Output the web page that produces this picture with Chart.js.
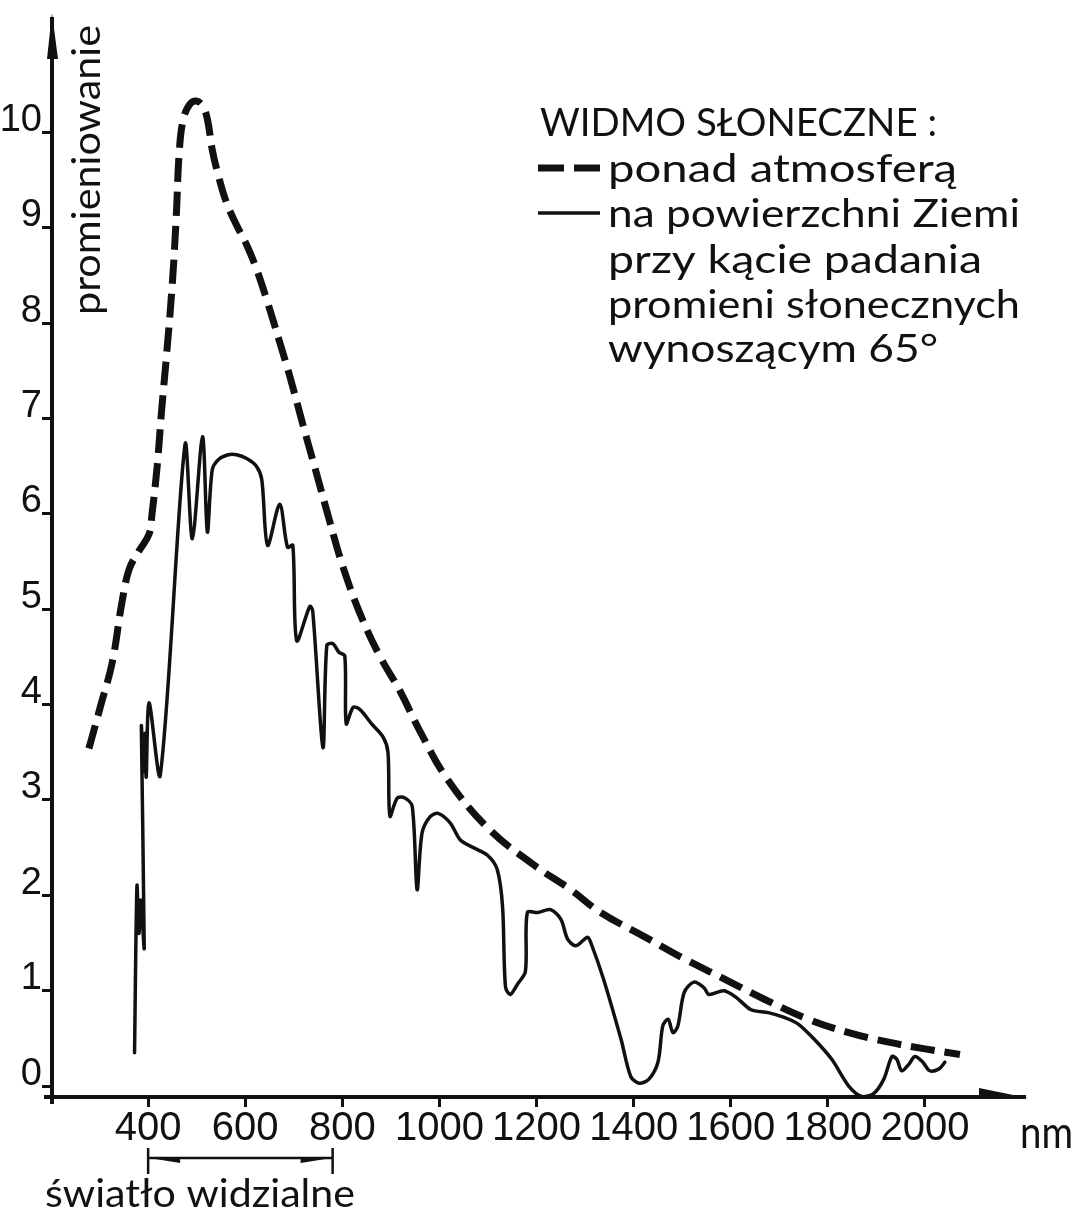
<!DOCTYPE html>
<html>
<head>
<meta charset="utf-8">
<script src="https://cdn.jsdelivr.net/npm/chart.js@4.4.1/dist/chart.umd.min.js"></script>
<style>
html,body{margin:0;padding:0;background:#ffffff;}
canvas{display:block;}
</style>
</head>
<body>
<canvas id="c" width="1083" height="1214"></canvas>
<script>
// ---------- data ----------
// spectrum above the atmosphere (dashed)
const aboveNm  = [278, 305, 326, 346, 361, 381, 402, 408, 419, 427, 439, 450, 458, 464, 472, 485, 499, 512, 522, 532,
                  543, 561, 582, 603, 623, 644, 671, 692, 718, 747, 774, 801, 836, 877, 919, 960, 1016, 1099, 1194, 1270,
                  1332, 1421, 1498, 1580, 1669, 1760, 1843, 1925, 2000, 2072];
const aboveVal = [3.54, 4.04, 4.44, 5.07, 5.42, 5.61, 5.79, 6.00, 6.52, 7.04, 7.73, 8.43, 9.13, 9.79, 10.13, 10.29, 10.33, 10.28, 10.14, 9.82,
                  9.58, 9.27, 9.03, 8.82, 8.57, 8.25, 7.80, 7.44, 6.95, 6.42, 5.92, 5.45, 4.96, 4.51, 4.14, 3.72, 3.22, 2.71, 2.32, 2.06,
                  1.82, 1.57, 1.35, 1.14, 0.91, 0.70, 0.56, 0.46, 0.39, 0.33];

// spectrum at the Earth's surface (solid)
const surfaceNm  = [372, 377, 381, 385, 392, 386, 391, 394, 396, 402, 425, 476, 491, 512, 522, 532, 545, 565, 582, 603,
                    623, 634, 646, 671, 687, 698, 706, 733, 739, 760, 768, 780, 793, 805, 808, 822, 836, 860, 884, 894,
                    898, 913, 929, 944, 954, 964, 980, 997, 1022, 1043, 1070, 1099, 1119, 1130, 1136, 1146, 1161, 1177, 1181, 1202,
                    1229, 1250, 1264, 1281, 1305, 1312, 1338, 1374, 1394, 1411, 1431, 1450, 1460, 1471, 1481, 1491, 1504, 1524, 1545, 1555,
                    1586, 1611, 1642, 1677, 1710, 1739, 1772, 1808, 1843, 1870, 1894, 1915, 1932, 1942, 1952, 1967, 1979, 1994, 2010, 2029,
                    2041];
const surfaceVal = [0.35, 2.10, 1.60, 1.95, 1.45, 3.77, 3.30, 3.70, 3.24, 4.02, 3.26, 6.73, 5.74, 6.81, 5.81, 6.46, 6.57, 6.62, 6.62, 6.58,
                    6.50, 6.36, 5.67, 6.10, 5.65, 5.67, 4.67, 5.03, 4.98, 3.55, 4.62, 4.64, 4.55, 4.51, 3.80, 3.97, 3.95, 3.80, 3.66, 3.50,
                    2.83, 3.02, 3.02, 2.93, 2.06, 2.65, 2.82, 2.86, 2.76, 2.58, 2.50, 2.42, 2.27, 1.88, 1.04, 0.96, 1.07, 1.20, 1.82, 1.82,
                    1.85, 1.75, 1.54, 1.47, 1.56, 1.50, 1.12, 0.49, 0.10, 0.03, 0.07, 0.25, 0.63, 0.70, 0.56, 0.63, 0.98, 1.09, 1.03, 0.96,
                    1.00, 0.93, 0.80, 0.77, 0.72, 0.65, 0.49, 0.28, 0.00, -0.11, -0.08, 0.07, 0.31, 0.28, 0.16, 0.23, 0.31, 0.26, 0.16, 0.18,
                    0.25];

// ticks and labels
const xTickValues = [400, 600, 800, 1000, 1200, 1400, 1600, 1800, 2000];
const xTickLabels = ['400', '600', '800', '1000', '1200', '1400', '1600', '1800', '2000'];
const yTickValues = [0, 1, 2, 3, 4, 5, 6, 7, 8, 9, 10];
const yTickLabels = ['0', '1', '2', '3', '4', '5', '6', '7', '8', '9', '10'];

// texts
const legendTitle   = 'WIDMO SŁONECZNE :';
const legendAbove   = 'ponad atmosferą';
const legendSurface = ['na powierzchni Ziemi', 'przy kącie padania', 'promieni słonecznych', 'wynoszącym 65°'];
const yAxisTitle    = 'promieniowanie';
const xAxisUnit     = 'nm';
const visibleLabel  = 'światło widzialne';
const visibleRange  = [400, 780];

// ---------- drawing ----------
const INK = '#111111';
const TEXT_FONT = "Lato, 'DejaVu Sans', sans-serif";
const TICK_FONT = "'Liberation Sans', Arial, sans-serif";

function toPoints(xs, ys) { return xs.map((x, i) => ({ x: x, y: ys[i] })); }

function fitText(ctx, text, x, y, width, size) {
  ctx.save();
  ctx.font = size + 'px ' + TEXT_FONT;
  ctx.textBaseline = 'alphabetic';
  ctx.textAlign = 'left';
  const w = ctx.measureText(text).width;
  ctx.translate(x, y);
  ctx.scale(width / w, 1);
  ctx.fillText(text, 0, 0);
  ctx.restore();
}

const decor = {
  id: 'decor',
  beforeDraw(chart) {
    const c = chart.ctx;
    c.save();
    c.fillStyle = '#ffffff';
    c.fillRect(0, 0, chart.width, chart.height);
    c.restore();
  },
  afterDraw(chart) {
    const c = chart.ctx;
    const a = chart.chartArea;
    const xs = chart.scales.x;
    c.save();
    c.fillStyle = INK;
    c.strokeStyle = INK;

    // axis arrows
    c.beginPath();
    c.moveTo(a.right + 3, a.bottom + 1);
    c.lineTo(a.right - 46, a.bottom - 9);
    c.lineTo(a.right - 46, a.bottom + 2);
    c.closePath();
    c.fill();

    c.beginPath();
    c.moveTo(a.left, a.top - 6);
    c.lineTo(a.left - 5, a.top + 40);
    c.lineTo(a.left + 6, a.top + 40);
    c.closePath();
    c.fill();

    // small overshoot of the axes at the origin
    c.lineWidth = 4;
    c.beginPath();
    c.moveTo(a.left - 8, a.bottom);
    c.lineTo(a.left, a.bottom);
    c.moveTo(a.left, a.bottom);
    c.lineTo(a.left, a.bottom + 7);
    c.stroke();

    // y axis title (rotated)
    c.save();
    c.translate(100, 315);
    c.rotate(-Math.PI / 2);
    fitText(c, yAxisTitle, 0, 0, 290, 38);
    c.restore();

    // unit on x axis
    fitText(c, xAxisUnit, 1020, 1148, 53, 44);

    // visible light bracket
    const x1 = xs.getPixelForValue(visibleRange[0]);
    const x2 = xs.getPixelForValue(visibleRange[1]);
    const yb = 1158;
    c.lineWidth = 2.5;
    c.beginPath();
    c.moveTo(x1, yb - 10); c.lineTo(x1, yb + 16);
    c.moveTo(x2, yb - 10); c.lineTo(x2, yb + 16);
    c.moveTo(x1, yb); c.lineTo(x2, yb);
    c.stroke();
    c.beginPath();
    c.moveTo(x1 + 1, yb); c.lineTo(x1 + 32, yb - 1); c.lineTo(x1 + 32, yb + 5); c.closePath();
    c.fill();
    c.beginPath();
    c.moveTo(x2 - 1, yb); c.lineTo(x2 - 32, yb - 1); c.lineTo(x2 - 32, yb + 5); c.closePath();
    c.fill();
    fitText(c, visibleLabel, 45, 1207, 310, 38);

    // legend
    fitText(c, legendTitle, 540, 136, 397, 38);
    c.lineWidth = 7;
    c.beginPath();
    c.moveTo(538, 168); c.lineTo(564, 168);
    c.moveTo(574, 168); c.lineTo(600, 168);
    c.stroke();
    fitText(c, legendAbove, 608, 182, 349, 38);
    c.lineWidth = 3.5;
    c.beginPath();
    c.moveTo(538, 213); c.lineTo(600, 213);
    c.stroke();
    const surfWidths = [412, 374, 412, 330];
    const surfBase = [227, 273, 318, 362];
    legendSurface.forEach((t, i) => fitText(c, t, 608, surfBase[i], surfWidths[i], 38));

    c.restore();
  }
};

const gridOpts = {
  display: true, drawOnChartArea: false, drawTicks: true,
  tickLength: 10, tickWidth: 3, tickColor: INK, color: INK
};
const borderOpts = { display: true, color: INK, width: 4 };

new Chart(document.getElementById('c').getContext('2d'), {
  type: 'line',
  data: {
    datasets: [
      {
        label: legendAbove,
        data: toPoints(aboveNm, aboveVal),
        borderColor: INK,
        borderWidth: 7,
        borderDash: [24, 10],
        borderCapStyle: 'butt',
        tension: 0.4,
        pointRadius: 0,
        fill: false,
        clip: false
      },
      {
        label: legendSurface.join(' '),
        data: toPoints(surfaceNm, surfaceVal),
        borderColor: INK,
        borderWidth: 3.5,
        borderJoinStyle: 'round',
        borderCapStyle: 'round',
        tension: 0.3,
        pointRadius: 0,
        fill: false,
        clip: false
      }
    ]
  },
  options: {
    responsive: false,
    animation: false,
    devicePixelRatio: 1,
    layout: { padding: { top: 16, right: 58, left: 0, bottom: 0 } },
    plugins: { legend: { display: false }, tooltip: { enabled: false } },
    scales: {
      x: {
        type: 'linear',
        min: 202,
        max: 2206,
        afterBuildTicks: (s) => { s.ticks = xTickValues.map(v => ({ value: v })); },
        afterFit: (s) => { s.height = 117; },
        ticks: {
          callback: (v) => { const i = xTickValues.indexOf(v); return i >= 0 ? xTickLabels[i] : ''; },
          font: { family: TICK_FONT, size: 40, lineHeight: 1 },
          color: INK,
          padding: 2,
          maxRotation: 0,
          minRotation: 0,
          autoSkip: false
        },
        grid: gridOpts,
        border: borderOpts
      },
      y: {
        type: 'linear',
        min: -0.115,
        max: 11.19,
        afterBuildTicks: (s) => { s.ticks = yTickValues.map(v => ({ value: v })); },
        afterFit: (s) => { s.width = 52; },
        ticks: {
          callback: (v) => { const i = yTickValues.indexOf(v); return i >= 0 ? yTickLabels[i] : ''; },
          font: { family: TICK_FONT, size: 38, lineHeight: 1 },
          color: INK,
          padding: 0,
          labelOffset: -12,
          autoSkip: false
        },
        grid: gridOpts,
        border: borderOpts
      }
    }
  },
  plugins: [decor]
});
</script>
</body>
</html>
